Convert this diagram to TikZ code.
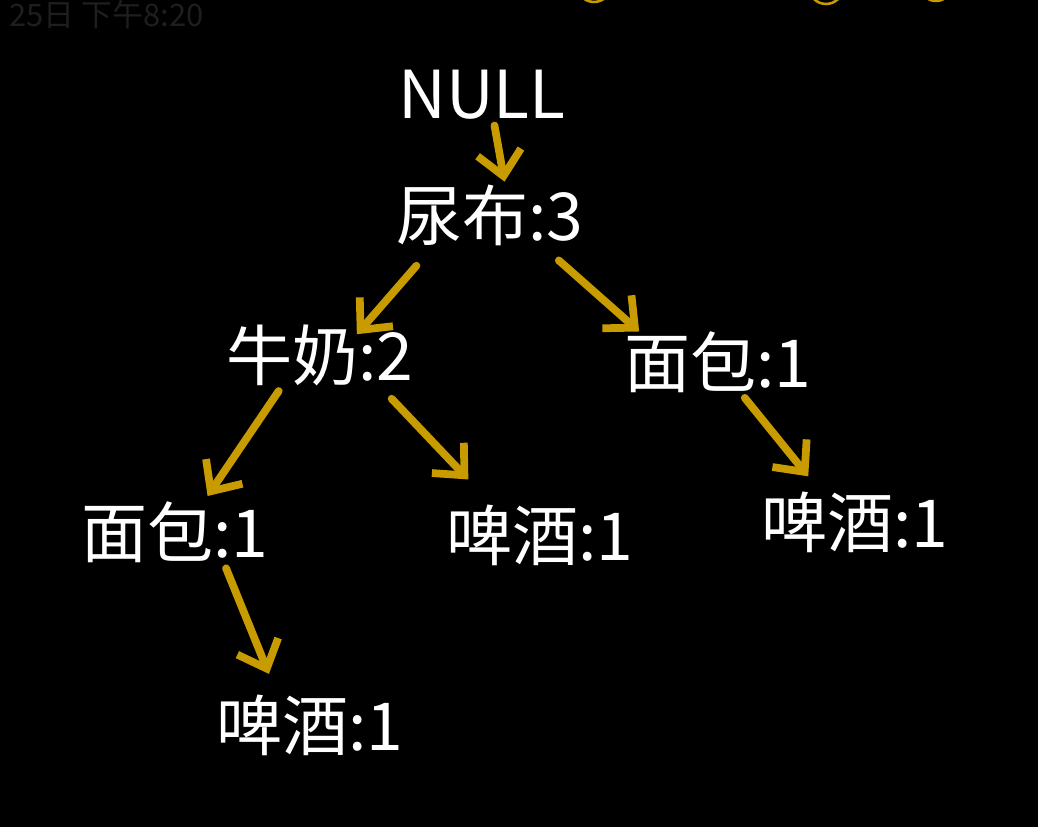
\documentclass[tikz,border=0pt]{standalone}
\usepackage{fontspec}
\setmainfont{Noto Sans CJK SC}
\usepackage{xcolor}
\usetikzlibrary{arrows.meta,calc}

\definecolor{gold}{HTML}{C89B00}
\definecolor{statusgray}{HTML}{1E1E1E}

\begin{document}
\begin{tikzpicture}[
  x=0.025cm, y=-0.025cm,
  item/.style={text=white, inner sep=2pt, font=\fontsize{47}{50}\selectfont},
  arrow/.style={-{Straight Barb[length=6mm, width=11mm, line width=5.5pt]},
                line width=5.5pt, line cap=round, draw=gold, shorten <=2pt, shorten >=2pt}
]
\fill[black] (0,0) rectangle (1038,827);
\useasboundingbox (0,0) rectangle (1038,827);

% status bar
\node[anchor=west, text=statusgray, inner sep=0pt, font=\fontsize{22}{24}\selectfont] (status) at (9,15) {25日 下午8:20};
\draw[gold, line width=1.8pt] (594,-15) circle (17);
\draw[gold, line width=1.8pt] (826,-13) circle (17);
\draw[gold, line width=1.8pt] (936,-15) circle (16);

% tree
\node[item] (root) at (482,95) {NULL};
\node[item] (niaobu) at (490,215) {尿布:3};
\node[item] (niunai) at (320,355) {牛奶:2};
\node[item] (mianbaoR) at (718,362) {面包:1};
\node[item] (mianbaoL) at (175,532) {面包:1};
\node[item] (pijiuM) at (540,535) {啤酒:1};
\node[item] (pijiuR) at (855,522) {啤酒:1};
\node[item] (pijiuB) at (310,725) {啤酒:1};

\draw[arrow] (root.south) ++(12,0) -- ($(niaobu.north)+(15,3)$);
\draw[arrow] (niaobu.south west) ++(25,15) -- ($(niunai.north)+(35,15)$);
\draw[arrow] (niaobu.south east) ++(-30,10) -- ($(mianbaoR.north west)+(20,5)$);
\draw[arrow] (niunai.south west) ++(57,0) -- ($(mianbaoL.north)+(31,0)$);
\draw[arrow] (niunai.south east) ++(-27,8) -- ($(pijiuM.north west)+(27,-20)$);
\draw[arrow] (mianbaoR.south) ++(25,0) -- ($(pijiuR.north)+(-45,-10)$);
\draw[arrow] (mianbaoL.south) ++(50,0) -- ($(pijiuB.north)+(-40,-15)$);
\end{tikzpicture}
\end{document}
